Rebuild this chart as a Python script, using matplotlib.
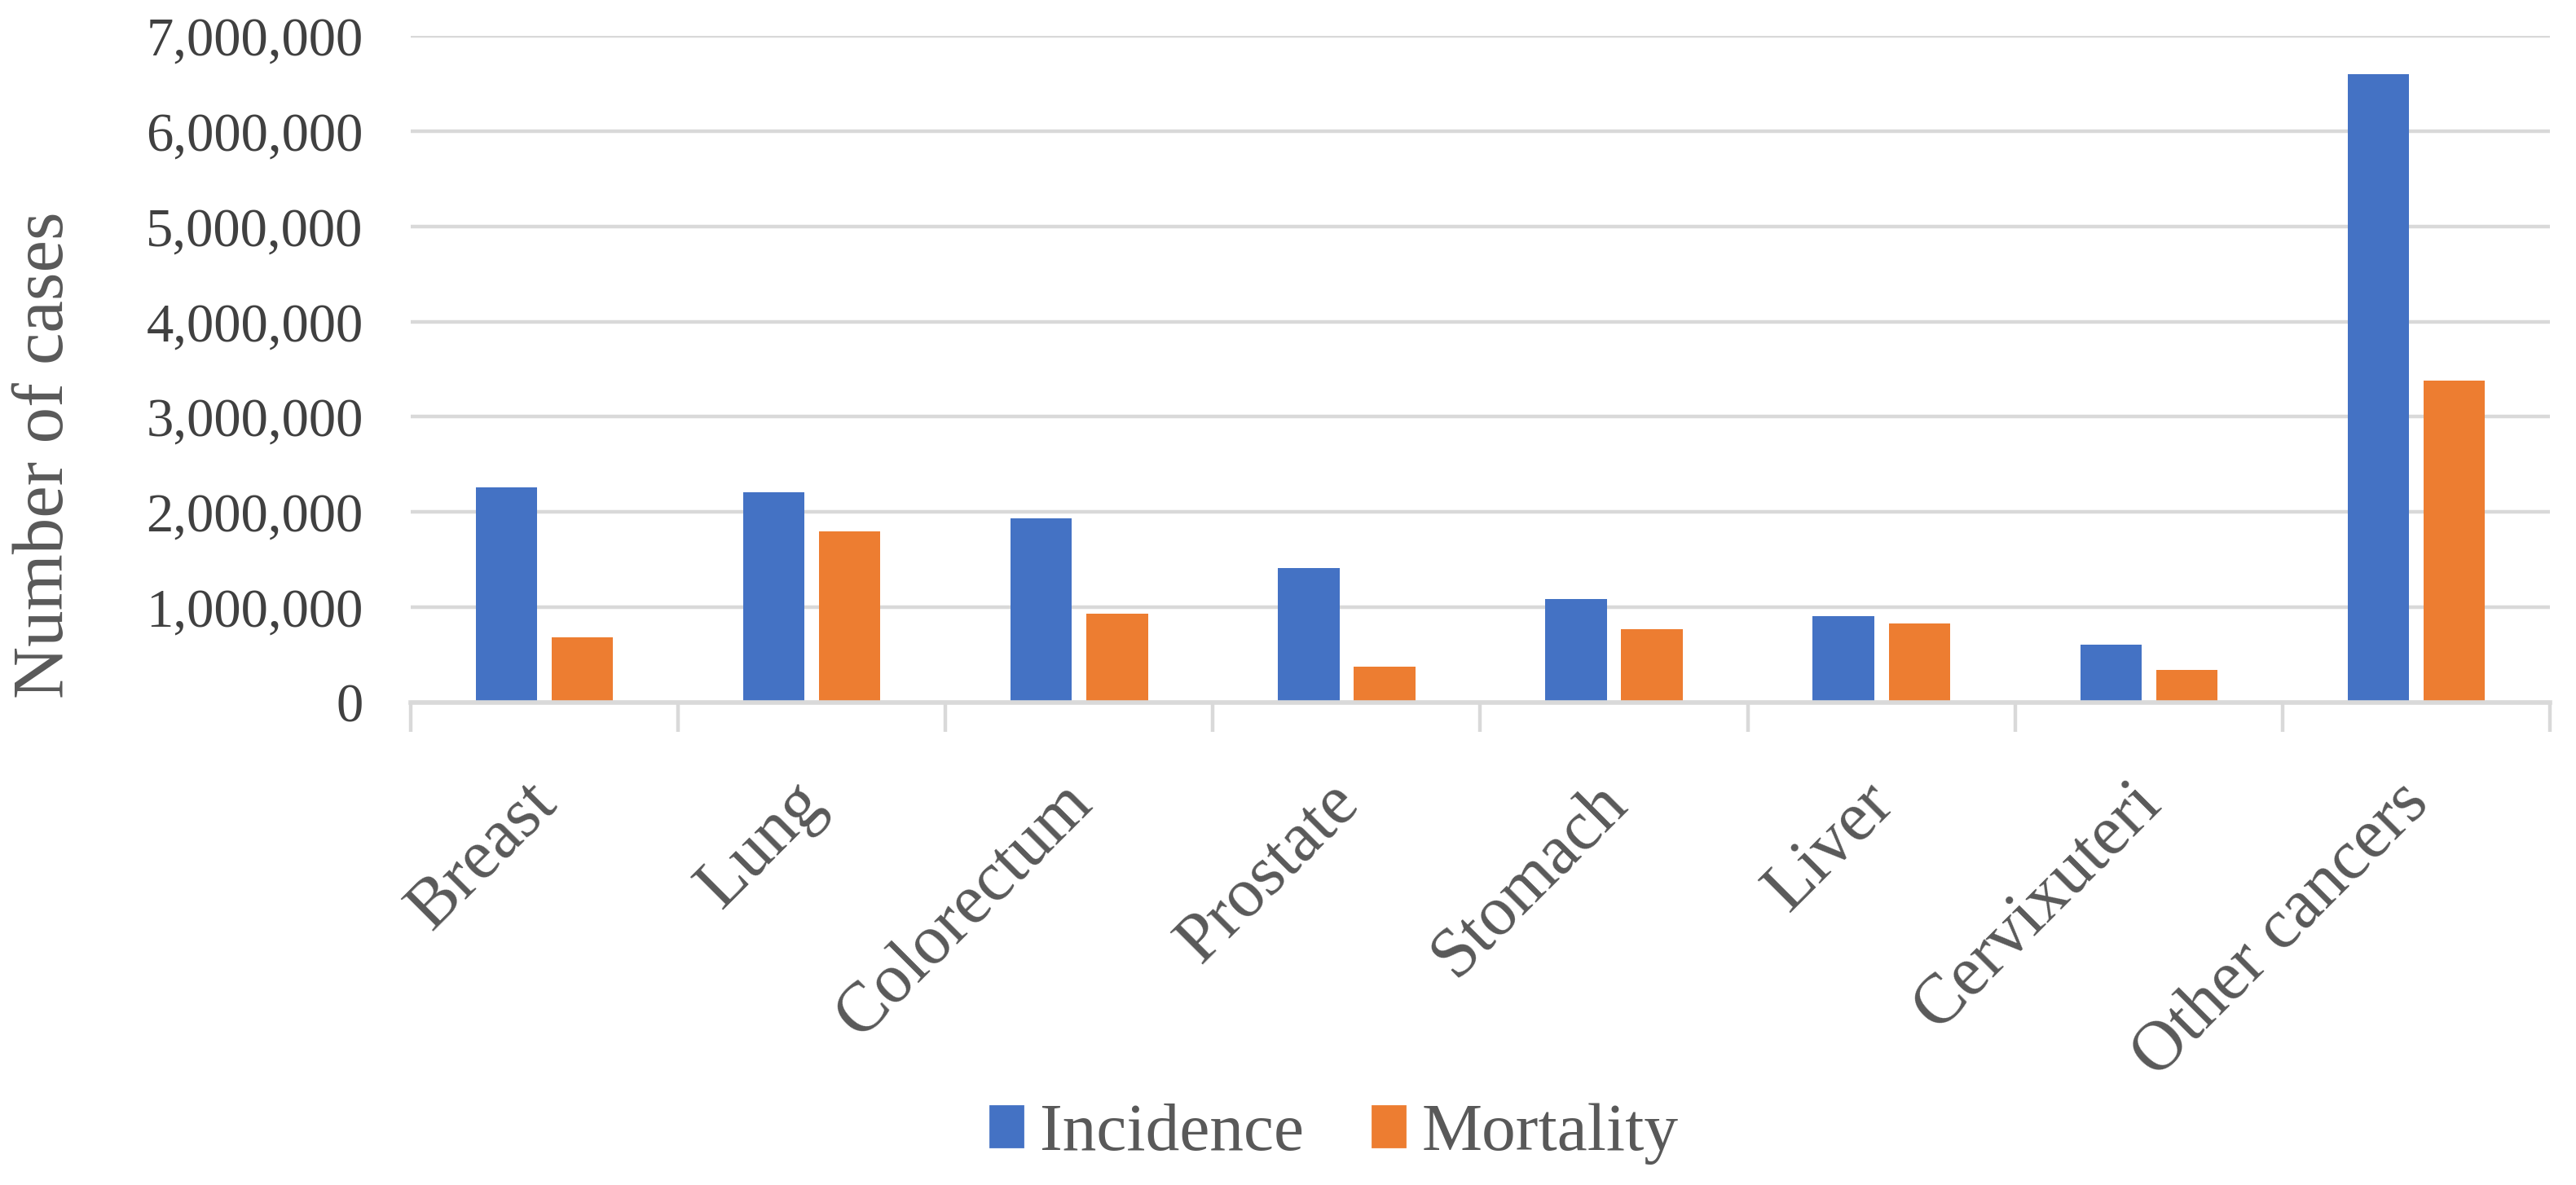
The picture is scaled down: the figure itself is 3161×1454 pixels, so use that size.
import numpy as np
import matplotlib
matplotlib.use('Agg')
import matplotlib.pyplot as plt
import matplotlib.transforms as mtransforms
from matplotlib.patches import Patch
from matplotlib.ticker import FuncFormatter

# data
categories = ['Breast', 'Lung', 'Colorectum', 'Prostate', 'Stomach', 'Liver', 'Cervixuteri', 'Other cancers']
incidence = [2261419, 2206771, 1931590, 1414259, 1089103, 905677, 604127, 6600000]
mortality = [684996, 1796144, 935173, 375304, 768793, 830180, 341831, 3380000]

blue = '#4472C4'
orange = '#ED7D31'
grid_c = '#D9D9D9'
text_c = '#595959'

plt.rcParams['font.family'] = ['Liberation Serif', 'DejaVu Serif']

fig = plt.figure(figsize=(15.805, 7.27), dpi=200)
ax = fig.add_axes([0.1594, 0.4072, 0.8305, 0.5625])

x = np.arange(len(categories))
w = 0.23
ax.bar(x - 0.142, incidence, w, color=blue, zorder=3)
ax.bar(x + 0.142, mortality, w, color=orange, zorder=3)

ax.set_xlim(-0.5, len(categories) - 0.5)
ax.set_ylim(0, 7000000)
ax.set_yticks(np.arange(0, 7000001, 1000000))
ax.yaxis.set_major_formatter(FuncFormatter(lambda v, p: f'{int(v):,}'))
ax.tick_params(axis='y', length=0, pad=21, labelsize=24, labelcolor='#404040')
ax.grid(axis='y', color=grid_c, lw=1.6, zorder=0)

# category labels at centers, tick marks at boundaries
ax.set_xticks(x)
ax.set_xticklabels(categories, rotation=45, ha='right', va='top',
                   rotation_mode='anchor', fontsize=31, color=text_c)
ax.tick_params(axis='x', which='major', length=0, pad=30)
ax.set_xticks(np.arange(-0.5, len(categories), 1), minor=True)
ax.tick_params(axis='x', which='minor', length=13, width=1.6, color=grid_c)
shift = mtransforms.ScaledTranslation(-9 / 72, 0, fig.dpi_scale_trans)
for lbl in ax.get_xticklabels():
    lbl.set_transform(lbl.get_transform() + shift)

for s in ['top', 'right', 'left']:
    ax.spines[s].set_visible(False)
ax.spines['bottom'].set_color(grid_c)
ax.spines['bottom'].set_linewidth(2)
ax.spines['bottom'].set_zorder(4)

fig.text(0.0175, 0.616, 'Number of cases', rotation=90, ha='center', va='center',
         fontsize=32, color=text_c)

handles = [Patch(color=blue, label='Incidence'), Patch(color=orange, label='Mortality')]
fig.legend(handles=handles, loc='center', bbox_to_anchor=(0.518, 0.043), ncol=2,
           frameon=False, fontsize=30, labelcolor=text_c, handlelength=0.48,
           handleheight=0.54, handletextpad=0.25, columnspacing=1.0)

fig.savefig('out.png', dpi=200)
